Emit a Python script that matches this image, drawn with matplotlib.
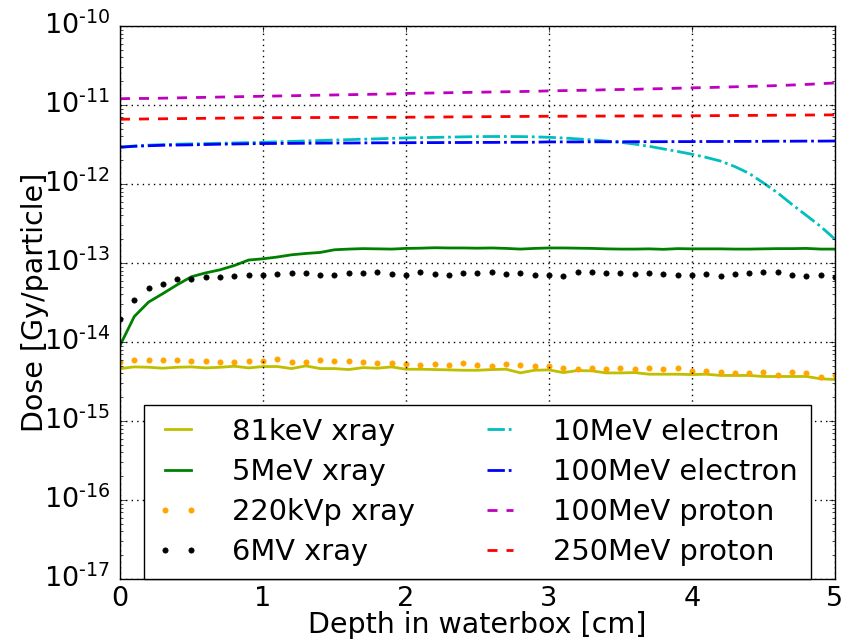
"""
Dose vs depth in waterbox for several beams
"""
import numpy as np
import matplotlib
matplotlib.use('Agg')
import matplotlib.pyplot as plt
from matplotlib.ticker import FuncFormatter

plt.style.use('classic')
plt.rcParams['font.family'] = ['DejaVu Sans']
plt.rcParams['mathtext.fontset'] = 'dejavusans'
plt.rcParams['mathtext.default'] = 'regular'
plt.rcParams['axes.unicode_minus'] = False

depth = np.round(np.arange(0, 5.01, 0.1), 1)

# values, in units of 1e-15 Gy/particle
xray_81kev = [4.60, 4.84, 4.79, 4.66, 4.79, 4.84, 4.70, 4.79, 4.93, 4.70,
              4.89, 4.89, 4.61, 4.98, 4.61, 4.61, 4.48, 4.74, 4.66, 4.84,
              4.52, 4.52, 4.48, 4.44, 4.39, 4.39, 4.48, 4.52, 4.07, 4.39,
              4.44, 4.10, 4.35, 4.31, 4.06, 4.06, 4.10, 3.91, 3.91, 3.91,
              3.87, 3.91, 3.77, 3.77, 3.77, 3.66, 3.66, 3.66, 3.66, 3.42,
              3.35]
xray_220kvp = [5.65, 5.93, 5.88, 5.88, 5.88, 5.77, 5.71, 5.60, 5.55, 5.82,
               5.77, 6.10, 5.65, 5.65, 5.93, 5.77, 5.77, 5.55, 5.39, 5.50,
               5.28, 5.18, 5.28, 5.08, 5.39, 5.13, 4.93, 5.23, 5.13, 5.03,
               5.03, 4.66, 4.52, 4.70, 4.52, 4.74, 4.52, 4.66, 4.57, 4.66,
               4.31, 4.35, 4.19, 4.10, 4.03, 4.19, 3.87, 4.19, 4.10, 3.62,
               3.77]

# units of 1e-14 Gy/particle
xray_5mev = [0.90, 2.10, 3.20, 4.10, 5.30, 6.70, 7.50, 8.20, 9.30, 10.9,
             11.3, 11.9, 12.7, 13.2, 13.6, 14.7, 15.0, 15.2, 15.1, 15.0,
             15.3, 15.4, 15.6, 15.5, 15.5, 15.4, 15.5, 15.3, 15.0, 15.3,
             15.5, 15.5, 15.4, 15.3, 15.1, 15.0, 15.0, 15.1, 14.9, 15.2,
             15.1, 15.1, 15.1, 15.0, 15.0, 15.1, 15.2, 15.2, 15.3, 15.0,
             15.0]
xray_6mv = [1.95, 3.40, 4.80, 5.50, 6.20, 6.20, 6.60, 6.60, 6.90, 7.10,
            7.05, 7.30, 7.55, 7.55, 7.10, 7.10, 7.55, 7.45, 7.75, 7.25,
            7.10, 7.60, 7.30, 7.15, 7.40, 7.55, 7.80, 7.25, 7.40, 7.15,
            7.05, 6.86, 7.80, 7.70, 7.55, 7.45, 7.20, 7.45, 7.20, 6.95,
            7.10, 7.20, 6.86, 7.20, 7.55, 7.75, 7.75, 7.10, 6.86, 6.95,
            6.60]

# units of 1e-12 Gy/particle
electron_10mev = [2.92, 3.03, 3.10, 3.15, 3.19, 3.22, 3.25, 3.28, 3.31, 3.34,
                  3.37, 3.42, 3.46, 3.51, 3.55, 3.60, 3.64, 3.69, 3.73, 3.78,
                  3.83, 3.86, 3.89, 3.92, 3.95, 3.98, 3.99, 3.99, 3.98, 3.95,
                  3.90, 3.82, 3.72, 3.62, 3.50, 3.37, 3.20, 3.00, 2.78, 2.58,
                  2.38, 2.17, 1.95, 1.66, 1.36, 1.03, 0.77, 0.55, 0.40, 0.29,
                  0.20]
electron_100mev = [2.92, 3.00, 3.05, 3.09, 3.11, 3.13, 3.16, 3.19, 3.21, 3.23,
                   3.25, 3.26, 3.27, 3.28, 3.29, 3.30, 3.30, 3.31, 3.32, 3.32,
                   3.33, 3.34, 3.34, 3.35, 3.35, 3.36, 3.36, 3.37, 3.37, 3.38,
                   3.41, 3.41, 3.41, 3.42, 3.42, 3.42, 3.43, 3.43, 3.43, 3.44,
                   3.44, 3.45, 3.45, 3.46, 3.46, 3.47, 3.48, 3.48, 3.49, 3.49,
                   3.50]
proton_100mev = [12.0, 12.1, 12.1, 12.2, 12.3, 12.4, 12.5, 12.6, 12.7, 12.8,
                 12.9, 13.0, 13.1, 13.2, 13.3, 13.4, 13.5, 13.6, 13.7, 13.8,
                 14.0, 14.1, 14.2, 14.3, 14.4, 14.5, 14.6, 14.7, 14.8, 14.9,
                 15.1, 15.2, 15.3, 15.4, 15.6, 15.7, 15.8, 16.0, 16.1, 16.3,
                 16.5, 16.6, 16.8, 17.0, 17.2, 17.4, 17.6, 17.9, 18.2, 18.6,
                 19.0]
proton_250mev = [6.60, 6.63, 6.66, 6.69, 6.72, 6.75, 6.78, 6.81, 6.84, 6.87,
                 6.90, 6.91, 6.92, 6.93, 6.94, 6.95, 6.96, 6.97, 6.98, 6.99,
                 7.00, 7.02, 7.04, 7.06, 7.08, 7.10, 7.12, 7.14, 7.16, 7.18,
                 7.20, 7.21, 7.22, 7.23, 7.24, 7.25, 7.26, 7.27, 7.28, 7.29,
                 7.30, 7.32, 7.34, 7.36, 7.38, 7.40, 7.42, 7.44, 7.46, 7.48,
                 7.50]


def decade_label(value, pos):
    # 10^-n with a plain hyphen, like the old matplotlib output
    exp = int(round(np.log10(value)))
    sign = '\u2010' if exp < 0 else ''
    return r'$10^{%s%d}$' % (sign, abs(exp))


def plot_dose():
    fig = plt.figure(figsize=(8.43, 6.4), dpi=100)
    ax = fig.add_axes([0.1423, 0.0953, 0.8482, 0.8641])

    lw = 2
    dash = (7.2, 6.5)
    dashdot = (12.5, 2.8, 2.0, 2.8)
    ax.plot(depth, np.array(xray_81kev) * 1e-15, color='y', lw=lw, label='81keV xray')
    ax.plot(depth, np.array(xray_5mev) * 1e-14, color='g', lw=lw, label='5MeV xray')
    ax.plot(depth, np.array(xray_220kvp) * 1e-15, ls='none', marker='o', ms=3.8,
            color='orange', mec='orange', label='220kVp xray')
    ax.plot(depth, np.array(xray_6mv) * 1e-14, ls='none', marker='o', ms=3.8,
            color='k', mec='k', label='6MV xray')
    ax.plot(depth, np.array(electron_10mev) * 1e-12, color='c', lw=lw,
            dashes=dashdot, label='10MeV electron')
    ax.plot(depth, np.array(electron_100mev) * 1e-12, color='b', lw=lw,
            dashes=dashdot, label='100MeV electron')
    ax.plot(depth, np.array(proton_100mev) * 1e-12, color='m', lw=lw,
            dashes=dash, label='100MeV proton')
    ax.plot(depth, np.array(proton_250mev) * 1e-12, color='r', lw=lw,
            dashes=dash, label='250MeV proton')

    ax.set_yscale('log')
    ax.set_xlim(0, 5)
    ax.set_ylim(1e-17, 1e-10)
    ax.set_xticks([0, 1, 2, 3, 4, 5])
    ax.yaxis.set_major_formatter(FuncFormatter(decade_label))
    ax.grid(True, which='major', color='k', ls=':', lw=1)
    ax.tick_params(labelsize=19.5)
    ax.tick_params(axis='x', which='major', pad=5)
    ax.tick_params(axis='y', which='major', pad=7)

    ax.set_xlabel('Depth in waterbox [cm]', fontsize=20.5, labelpad=-1)
    ax.set_ylabel('Dose [Gy/particle]', fontsize=20.5, labelpad=-4)

    leg = ax.legend(loc='lower center', ncol=2, fontsize=20.8, numpoints=2,
                    borderaxespad=0, borderpad=0.45, handlelength=1.5,
                    handletextpad=1.1, columnspacing=2.2, labelspacing=0.42,
                    frameon=True, fancybox=False)
    leg.get_frame().set_edgecolor('k')

    fig.savefig('out.png', dpi=100)


if __name__ == '__main__':
    plot_dose()
